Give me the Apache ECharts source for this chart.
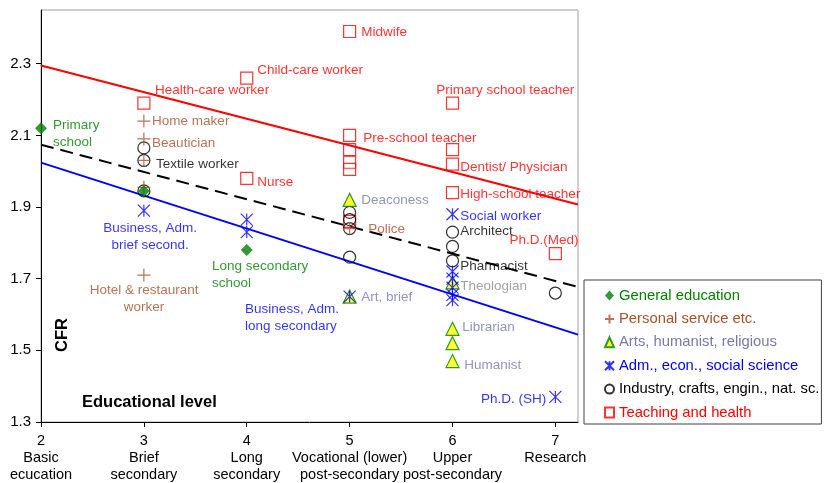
<!DOCTYPE html>
<html><head><meta charset="utf-8">
<script src="https://cdn.jsdelivr.net/npm/echarts@6/dist/echarts.min.js"></script>
<style>html,body{margin:0;padding:0;background:#fff}#c{width:830px;height:483px}</style>
</head><body><div id="c"></div>
<script>
// ---- data ----
const xTicks = [2, 3, 4, 5, 6, 7];
const xTickLabels = ['2\nBasic\necucation', '3\nBrief\nsecondary', '4\nLong\nsecondary',
  '5\nVocational (lower)\npost-secondary', '6\nUpper\npost-secondary', '7\nResearch'];
const yTicks = [1.3, 1.5, 1.7, 1.9, 2.1, 2.3];

const generalEducation = [[2, 2.12], [3, 1.945], [4, 1.78]];
const personalService = [[3, 2.14], [3, 2.09], [3, 2.03], [3, 1.955], [3, 1.71], [5, 1.84]];
const artsHumanist = [[5, 1.92], [5, 1.65], [6, 1.69], [6, 1.56], [6, 1.52], [6, 1.47]];
const admEcon = [[3, 1.89], [4, 1.865], [4, 1.83], [5, 1.65], [6, 1.88], [6, 1.72], [6, 1.70],
  [6, 1.675], [6, 1.655], [6, 1.64], [7, 1.37]];
const industry = [[3, 2.065], [3, 2.03], [3, 1.945], [5, 1.885], [5, 1.865], [5, 1.84], [5, 1.76],
  [6, 1.83], [6, 1.79], [6, 1.75], [7, 1.66]];
const teachingHealth = [[3, 2.19], [4, 2.26], [4, 1.98], [5, 2.39], [5, 2.10], [5, 2.06], [5, 2.025],
  [5, 2.005], [5, 1.86], [6, 2.19], [6, 2.06], [6, 2.02], [6, 1.94], [7, 1.77]];

const teachingLine = [[2, 2.295], [7.22, 1.907]];
const overallLine = [[2, 2.074], [7.22, 1.677]];
const admLine = [[2, 2.024], [7.22, 1.544]];

const seriesNames = ['General education', 'Personal service etc.', 'Arts, humanist, religious',
  'Adm., econ., social science', 'Industry, crafts, engin., nat. sc.', 'Teaching and health'];

// annotation texts: [text, x, y, group, align]
const annotations = [
  ['Primary\nschool', 2.117, 2.104, 'green', 'left'],
  ['Health-care worker', 3.109, 2.225, 'red', 'left'],
  ['Child-care worker', 4.101, 2.283, 'red', 'left'],
  ['Home maker', 3.08, 2.138, 'brown', 'left'],
  ['Beautician', 3.08, 2.079, 'brown', 'left'],
  ['Textile worker', 3.119, 2.018, 'black', 'left'],
  ['Nurse', 4.101, 1.970, 'red', 'left'],
  ['Midwife', 5.113, 2.387, 'red', 'left'],
  ['Pre-school teacher', 5.132, 2.093, 'red', 'left'],
  ['Primary school teacher', 5.842, 2.227, 'red', 'left'],
  ['Dentist/ Physician', 6.076, 2.012, 'red', 'left'],
  ['High-school teacher', 6.076, 1.937, 'red', 'left'],
  ['Deaconess', 5.113, 1.920, 'slate', 'left'],
  ['Police', 5.181, 1.839, 'brown', 'left'],
  ['Social worker', 6.076, 1.875, 'blue', 'left'],
  ['Architect', 6.076, 1.831, 'black', 'left'],
  ['Ph.D.(Med)', 6.553, 1.806, 'red', 'left'],
  ['Pharmacist', 6.076, 1.736, 'black', 'left'],
  ['Theologian', 6.076, 1.680, 'gray', 'left'],
  ['Art, brief', 5.113, 1.649, 'slate', 'left'],
  ['Librarian', 6.095, 1.563, 'slate', 'left'],
  ['Humanist', 6.115, 1.459, 'slate', 'left'],
  ['Ph.D. (SH)', 6.912, 1.364, 'blue', 'right'],
  ['Business, Adm.\nbrief second.', 3.06, 1.817, 'blue', 'center'],
  ['Hotel & restaurant\nworker', 3.002, 1.644, 'brown', 'center'],
  ['Long secondary\nschool', 3.663, 1.711, 'green', 'left'],
  ['Business, Adm.\nlong secondary', 3.984, 1.590, 'blue', 'left']
];

// ---- styles ----
const C = {green: '#008000', brown: '#a5502a', slate: '#7878aa', blue: '#0000ff', black: '#000000',
  red: '#ff0000', gray: '#8c8c8c'};
const FONT = 'Arial, "Liberation Sans", sans-serif';
const plusPath = 'path://M5,0L5,10M0,5L10,5';
const starPath = 'path://M0,0L10,10M10,0L0,10M5,0L5,10';

function scatter(name, data, symbol, size, itemStyle) {
  return {name, type: 'scatter', data, symbol, symbolSize: size, itemStyle, z: 3,
    emphasis: {disabled: true}};
}
function line(data, color, type) {
  return {type: 'line', data, symbol: 'none', silent: true, z: 2,
    lineStyle: {color, width: 2, type}};
}

const chart = echarts.init(document.getElementById('c'), null, {renderer: 'canvas'});
chart.setOption({
  animation: false,
  textStyle: {fontFamily: FONT},
  grid: {left: 41, top: 10, right: 252, bottom: 61, show: true, borderColor: '#a0a0a0', borderWidth: 1},
  xAxis: {type: 'value', min: 2, max: 7.22,
    axisLine: {show: true, onZero: false, lineStyle: {color: '#000', width: 1}},
    axisTick: {show: true, length: 5, customValues: xTicks, lineStyle: {color: '#000'}},
    axisLabel: {customValues: xTicks, margin: 10, color: '#000', fontSize: 14.5, lineHeight: 17,
      fontFamily: FONT, formatter: v => xTickLabels[xTicks.indexOf(Math.round(v))]},
    splitLine: {show: false}},
  yAxis: {type: 'value', min: 1.3, max: 2.45,
    axisLine: {show: true, onZero: false, lineStyle: {color: '#000', width: 1}},
    axisTick: {show: true, length: 5, customValues: yTicks, lineStyle: {color: '#000'}},
    axisLabel: {customValues: yTicks, margin: 10, color: '#000', fontSize: 15, fontFamily: FONT,
      formatter: v => v.toFixed(1)},
    splitLine: {show: false}},
  legend: {orient: 'vertical', left: 584, top: 280, padding: [8, 2, 4, 20], itemGap: 8.4,
    itemWidth: 9, itemHeight: 10, borderColor: '#404040', borderWidth: 1, backgroundColor: '#fff',
    textStyle: {fontSize: 14.8, fontFamily: FONT},
    data: [
      {name: seriesNames[0], textStyle: {color: C.green}},
      {name: seriesNames[1], textStyle: {color: C.brown}},
      {name: seriesNames[2], textStyle: {color: C.slate}},
      {name: seriesNames[3], textStyle: {color: C.blue}},
      {name: seriesNames[4], textStyle: {color: C.black}},
      {name: seriesNames[5], textStyle: {color: C.red}}
    ], selectedMode: false},
  graphic: [
    {type: 'text', left: 82, top: 394, style: {text: 'Educational level', font: 'bold 16.5px ' + FONT, fill: '#000'}},
    {type: 'text', x: 54, y: 352, rotation: Math.PI / 2, style: {text: 'CFR', font: 'bold 16.5px ' + FONT, fill: '#000'}}
  ],
  series: [
    line(teachingLine, C.red, 'solid'),
    line(overallLine, '#000', [13, 7]),
    line(admLine, C.blue, 'solid'),
    scatter(seriesNames[5], teachingHealth, 'rect', 12, {color: 'rgba(255,255,255,0)', borderColor: C.red, borderWidth: 1.2}),
    scatter(seriesNames[4], industry, 'circle', 12, {color: 'rgba(255,255,255,0)', borderColor: '#000', borderWidth: 1.2}),
    scatter(seriesNames[1], personalService, plusPath, 13, {color: 'rgba(255,255,255,0)', borderColor: C.brown, borderWidth: 1.2}),
    scatter(seriesNames[2], artsHumanist, 'triangle', 13, {color: '#ffff00', borderColor: C.green, borderWidth: 1.2}),
    scatter(seriesNames[3], admEcon, starPath, 12, {color: 'rgba(255,255,255,0)', borderColor: C.blue, borderWidth: 1.2}),
    scatter(seriesNames[0], generalEducation, 'diamond', 12, {color: C.green}),
    {type: 'scatter', symbolSize: 0, silent: true, z: 4,
      data: annotations.map(a => ({value: [a[1], a[2]], label: {show: true, formatter: a[0],
        color: C[a[3]], align: a[4], position: a[4] === 'left' ? 'right' : (a[4] === 'right' ? 'left' : 'inside'),
        distance: 0, fontSize: 13.5, lineHeight: 17, fontFamily: FONT}}))}
  ]
});
</script></body></html>
